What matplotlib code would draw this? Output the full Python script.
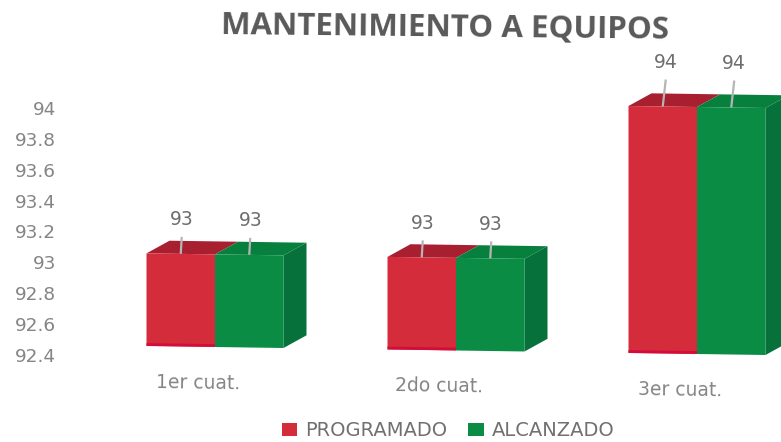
import matplotlib
matplotlib.use("Agg")
import matplotlib.pyplot as plt
from matplotlib.transforms import Affine2D
import numpy as np

plt.rcParams["font.family"] = ["DejaVu Sans"]

categories = ["1er cuat.", "2do cuat.", "3er cuat."]
programado = [93, 93, 94]
alcanzado = [93, 93, 94]
yticks = [92.4, 92.6, 92.8, 93, 93.2, 93.4, 93.6, 93.8, 94]
series_names = ["PROGRAMADO", "ALCANZADO"]
title = "MANTENIMIENTO A EQUIPOS"

W, H = 781, 442
LEFT, TOP, BOTTOM = 60, 108, 355
CAT0, CAT_STEP = 215, 241
UNIT = (BOTTOM - TOP) / 1.6
BAR_W = 68.5 / CAT_STEP
DX = 23 / CAT_STEP
DY = 13 / UNIT
BASE = 92.4
GREY = "#858585"
LEADER_PX = [17, 17, 27]
LABEL_SHIFT_PX = [1, 1, 3]

RED, RED_TOP, RED_EDGE = "#d52c3c", "#a81f30", "#d40c3c"
GREEN, GREEN_TOP, GREEN_SIDE = "#0a8c45", "#08803d", "#06713a"

fig = plt.figure(figsize=(W / 100, H / 100), dpi=100)
ax = fig.add_axes([LEFT / W, 1 - BOTTOM / H, (W - LEFT) / W, (BOTTOM - TOP) / H])
ax.set_ylim(BASE, 94)
ax.set_xlim((LEFT - CAT0) / CAT_STEP, (W - CAT0) / CAT_STEP)
for s in ax.spines.values():
    s.set_visible(False)

# the scanned page is slightly skewed: baseline falls to the right, verticals stay vertical
SLOPE = 7 / 482
tilt = Affine2D().translate(-CAT0, 0)
tilt = tilt + Affine2D(np.array([[1, 0, 0], [-SLOPE, 1, 0], [0, 0, 1.0]]))
tilt = tilt + Affine2D().translate(CAT0, 8)
tr = ax.transData + tilt

x = np.arange(len(categories))
b1 = ax.bar(x - BAR_W / 2, np.array(programado) - BASE, BAR_W, bottom=BASE, color=RED,
            transform=tr, clip_on=False, zorder=3, label=series_names[0])
b2 = ax.bar(x + BAR_W / 2, np.array(alcanzado) - BASE, BAR_W, bottom=BASE, color=GREEN,
            transform=tr, clip_on=False, zorder=3, label=series_names[1])

for xi, p, a, lead, shift in zip(x, programado, alcanzado, LEADER_PX, LABEL_SHIFT_PX):
    ax.fill([xi - BAR_W, xi, xi + DX, xi - BAR_W + DX],
            [p, p, p + DY, p + DY], color=RED_TOP, lw=0, transform=tr, clip_on=False, zorder=2)
    ax.fill([xi, xi + BAR_W, xi + BAR_W + DX, xi + DX],
            [a, a, a + DY, a + DY], color=GREEN_TOP, lw=0, transform=tr, clip_on=False, zorder=2)
    ax.fill([xi + BAR_W, xi + BAR_W + DX, xi + BAR_W + DX, xi + BAR_W],
            [BASE, BASE + DY, a + DY, a], color=GREEN_SIDE, lw=0, transform=tr, clip_on=False, zorder=2)
    ax.plot([xi - BAR_W, xi], [BASE + 1.5 / UNIT] * 2, color=RED_EDGE, lw=2,
            transform=tr, clip_on=False, zorder=4, solid_capstyle="butt")
    for off, v in ((-BAR_W / 2, p), (BAR_W / 2, a)):
        ax.plot([xi + off, xi + off + shift / CAT_STEP], [v, v + lead / UNIT], color="#b5b5b5", lw=1.6,
                transform=tr, clip_on=False, zorder=5, solid_capstyle="butt")
        ax.annotate(f"{v}", xy=(xi + off, v), xycoords=tr, xytext=(shift, lead + 17),
                    textcoords="offset pixels", ha="center", va="center",
                    fontsize=13.5, color="#6e6e6e", annotation_clip=False)

ax.set_yticks(yticks, [f"{t:g}" for t in yticks])
ax.tick_params(axis="y", length=0, pad=3, labelsize=13.3, labelcolor=GREY)

ax.set_xticks(x - 17 / CAT_STEP, categories)
ax.tick_params(axis="x", length=0, pad=19, labelsize=13.5, labelcolor=GREY)
for lab in ax.get_xticklabels():
    lab.set_rotation(-0.84)
    lab.set_rotation_mode("anchor")
    lab.set_transform(lab.get_transform() + tilt)

fig.text(445 / W, 1 - 28 / H, title, ha="center", va="center", rotation=-0.6,
         fontsize=22.5, fontweight="bold", family="Open Sans", color="#595959")

fig.legend(handles=[b1, b2], labels=series_names, loc="center",
           bbox_to_anchor=(448 / W, 1 - 431 / H), ncols=2, frameon=False,
           fontsize=14, labelcolor="#707070", handlelength=0.8, handleheight=0.6,
           handletextpad=0.4, columnspacing=1.1)

fig.savefig("out.png", dpi=100, facecolor="white")
